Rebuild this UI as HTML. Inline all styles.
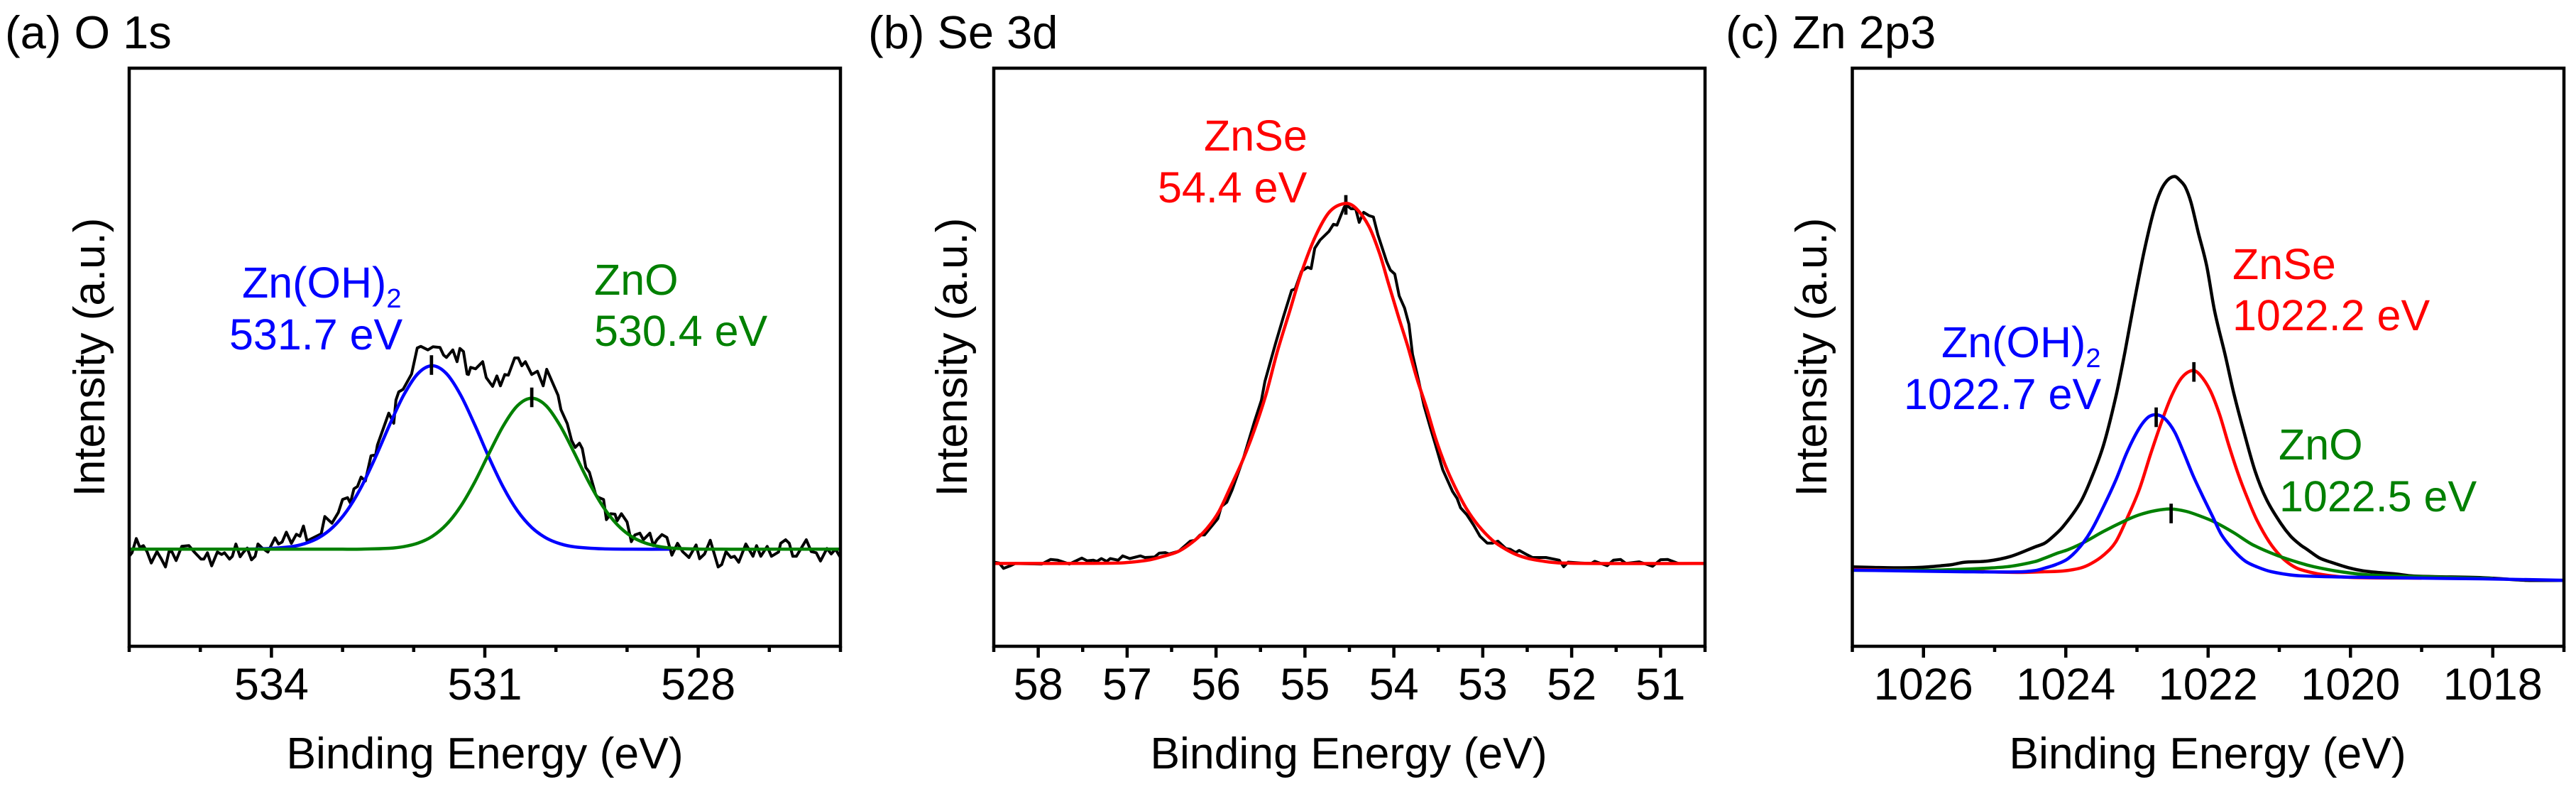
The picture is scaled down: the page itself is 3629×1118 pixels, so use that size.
<!DOCTYPE html>
<html lang="en">
<head>
<meta charset="utf-8">
<title>XPS spectra: O 1s, Se 3d, Zn 2p3</title>
<style>
html,body{margin:0;padding:0;background:#fff;}
#figure{display:block;}
text{font-family:"Liberation Sans",Arial,sans-serif;}
</style>
</head>
<body>
<svg id="figure" xmlns="http://www.w3.org/2000/svg" width="3629" height="1118" viewBox="0 0 3629 1118">
  <rect x="0" y="0" width="3629" height="1118" fill="#fff"/>
  <g id="panel-a"></g>
  <g id="panel-b"></g>
  <g id="panel-c"></g>

  <text x="7" y="68" font-size="65">(a) O 1s</text>
  <text x="1223" y="68" font-size="65">(b) Se 3d</text>
  <text x="2431" y="68" font-size="65">(c) Zn 2p3</text>

  <text x="341" y="419" font-size="61" fill="#0000ff">Zn(OH)<tspan dy="14" font-size="38">2</tspan></text>
  <text x="323" y="492" font-size="61" fill="#0000ff">531.7 eV</text>
  <text x="837" y="415" font-size="61" fill="#008000">ZnO</text>
  <text x="837" y="487" font-size="61" fill="#008000">530.4 eV</text>

  <text x="1696" y="212" font-size="61" fill="#ff0000">ZnSe</text>
  <text x="1631" y="285" font-size="61" fill="#ff0000">54.4 eV</text>

  <text x="3145" y="393" font-size="61" fill="#ff0000">ZnSe</text>
  <text x="3145" y="465" font-size="61" fill="#ff0000">1022.2 eV</text>
  <text x="2735" y="503" font-size="61" fill="#0000ff">Zn(OH)<tspan dy="14" font-size="38">2</tspan></text>
  <text x="2682" y="576" font-size="61" fill="#0000ff">1022.7 eV</text>
  <text x="3210" y="647" font-size="61" fill="#008000">ZnO</text>
  <text x="3211" y="720" font-size="61" fill="#008000">1022.5 eV</text>
</svg>

<script>
/* ---------- Panel (a) O 1s ---------- */
const aMajorTicks = [534, 531, 528];
const aMinorTicks = [536, 535, 533, 532, 530, 529, 527, 526];
const aRawEnergy = [536.00,535.96,535.90,535.85,535.80,535.75,535.69,535.61,535.55,535.49,535.44,535.40,535.34,535.26,535.16,535.09,534.99,534.95,534.90,534.84,534.76,534.70,534.66,534.59,534.55,534.50,534.44,534.40,534.34,534.28,534.23,534.19,534.13,534.05,533.95,533.90,533.85,533.79,533.72,533.65,533.60,533.55,533.50,533.30,533.25,533.15,533.06,533.00,532.93,532.89,532.84,532.79,532.74,532.68,532.60,532.56,532.54,532.51,532.35,532.28,532.25,532.21,532.15,532.03,531.95,531.90,531.80,531.73,531.63,531.58,531.54,531.45,531.39,531.35,531.30,531.25,531.23,531.20,531.13,531.03,530.98,530.89,530.83,530.78,530.72,530.67,530.58,530.53,530.48,530.43,530.34,530.26,530.18,530.13,529.97,529.93,529.84,529.78,529.73,529.67,529.63,529.58,529.53,529.44,529.41,529.33,529.29,529.23,529.17,529.14,529.08,529.00,528.94,528.89,528.82,528.77,528.68,528.63,528.58,528.51,528.44,528.37,528.29,528.22,528.13,528.03,527.98,527.91,527.83,527.72,527.67,527.61,527.54,527.49,527.43,527.33,527.23,527.18,527.12,527.03,526.97,526.87,526.84,526.77,526.72,526.67,526.62,526.48,526.41,526.34,526.28,526.19,526.13,526.07,526.00];
const aRawIntensity = [126.7,131.7,151.7,139.3,141.7,133.3,117.3,133.3,123.3,111.7,133.3,133.3,120.7,140.7,141.7,133.3,122.7,122.7,131.7,113.3,132.7,129.3,131.7,122.7,126.7,144,126,131.7,138.3,121.7,126.7,144,138.3,132.7,152.7,144,146.7,160.7,145,157.7,155,169.3,148.3,158.3,182.7,173.3,188.3,206.7,209.3,201.7,221.7,225,238.3,232.7,268.3,269,266.7,283.3,328.3,314,346.7,358.3,361.7,383.3,420,422.3,417.3,421.7,420.7,410,406.7,417.3,400.7,419.3,415,383.3,382.7,392.7,390.7,400.7,378.3,366,380.7,366.7,382.7,381.7,406,406,395,400.7,382.7,387.3,366.7,390,353.3,333.3,313.3,290,280,286,278.3,251.7,245,213.3,210,206.7,178.3,186.7,186,176.7,186.7,175,147.3,156.7,159.3,150,159.3,141.7,150,157.3,153.3,128.3,145,133.3,125,142.7,123.3,130,149.3,111.7,115,133.3,125,126.7,118.3,144,126.7,141.7,126.7,140.7,126.7,132.7,145,150,145,126.7,126.7,150,133.3,131.7,120,137.7,130,136.7,125];
const aZnOH2Energy = [534.54,534.14,533.74,533.54,533.34,533.14,532.94,532.74,532.54,532.34,532.14,531.94,531.74,531.54,531.34,531.14,530.94,530.74,530.54,530.34,530.14,529.94,529.74,529.34,528.94,528.40];
const aZnOH2Intensity = [136.7,137.2,140,144.3,152.6,167.3,190.6,223.8,265.6,311.4,353.8,384,395,384,353.8,311.4,265.6,223.8,190.6,167.3,152.6,144.3,140,137.2,136.7,136.7];
const aZnOEnergy = [536,535,534,533,532.74,532.34,532.14,531.94,531.74,531.54,531.34,531.14,530.94,530.74,530.54,530.34,530.14,529.94,529.74,529.54,529.34,529.14,528.94,528.74,528.54,528.34,527.94,527,526];
const aZnOIntensity = [136.7,136.7,136.7,136.7,136.8,138,140.3,145.2,154.7,171.4,197,231.6,271.8,310.5,338.9,349.3,338.9,310.5,271.8,231.6,197,171.4,154.7,145.2,140.3,138,136.8,136.7,136.7];
const aMarkEnergy = [531.75, 530.34];
const aMarkIntensity = [396, 350.5];

/* ---------- Panel (b) Se 3d ---------- */
const bMajorTicks = [58, 57, 56, 55, 54, 53, 52, 51];
const bMinorTicks = [58.5, 57.5, 56.5, 55.5, 54.5, 53.5, 52.5, 51.5, 50.5];
const bRawEnergy = [58.50,58.44,58.39,58.31,58.26,57.96,57.86,57.78,57.65,57.51,57.45,57.38,57.34,57.29,57.23,57.19,57.10,57.05,56.97,56.85,56.80,56.69,56.64,56.57,56.53,56.42,56.29,56.24,56.18,56.13,55.98,55.94,55.88,55.82,55.69,55.57,55.49,55.45,55.33,55.24,55.15,55.11,55.04,54.97,54.93,54.89,54.83,54.73,54.68,54.64,54.56,54.54,54.48,54.43,54.39,54.34,54.28,54.23,54.18,54.08,54.04,53.99,53.94,53.88,53.83,53.79,53.72,53.66,53.59,53.53,53.45,53.34,53.29,53.25,53.18,53.10,53.03,52.95,52.89,52.83,52.74,52.69,52.63,52.59,52.50,52.44,52.29,52.14,52.09,52.04,51.90,51.78,51.74,51.60,51.53,51.45,51.39,51.24,51.09,51.00,50.92,50.80];
const bRawIntensity = [118.5,117.3,109.7,113.5,116.6,115.8,122.3,121.2,115.8,124.2,120.4,121.2,119.6,123.5,119.6,123.5,121.2,127.3,123.5,127.3,125,125.8,131.1,131.9,130,133.8,148,149.1,156.7,156.7,179.7,196.9,202.7,219.9,265.8,315.6,346.2,373,426.6,464.8,501.2,503.1,528,533.7,531.8,560.5,572,584.2,594.2,593,617.9,621.7,616,616,596.9,611,606.4,604.5,579.6,541.4,529.9,524.1,493.5,476.3,453.3,411.2,373,338.5,307.9,283,248.6,218,208.4,195,185.4,170.1,154.8,145.3,145.3,148,137.6,136.5,131.9,135,128.8,125,125,121.2,112,118.5,117.3,116.6,119.6,113.5,121.2,122.3,116.6,118.9,112.7,121.9,122.3,116.6];
const bZnSeEnergy = [58.50,57.09,56.77,56.64,56.42,56.24,56.10,55.97,55.84,55.70,55.57,55.44,55.31,55.17,55.04,54.88,54.72,54.54,54.42,54.28,54.16,54.06,53.95,53.84,53.74,53.63,53.53,53.42,53.31,53.18,53.05,52.89,52.74,52.60,52.44,52.12,50.50];
const bZnSeIntensity = [116.6,117.3,121.2,125,133.8,149.1,166.3,189.3,223.7,262,304.1,353.8,415.1,472.5,526,577.7,612.2,623.6,616,591.1,552.8,510.7,464.8,420.8,376.8,334.7,292.6,254.3,223.7,193.1,170.1,149.1,136.5,128,122.3,117.3,116.6];
const bMarkEnergy = [54.54];
const bMarkIntensity = [621.5];

/* ---------- Panel (c) Zn 2p3 ---------- */
const cMajorTicks = [1026, 1024, 1022, 1020, 1018];
const cMinorTicks = [1027, 1025, 1023, 1021, 1019, 1017];
const cRawEnergy = [1027,1026.7,1026.4,1026.07,1025.76,1025.6,1025.43,1025.1,1024.77,1024.43,1024.30,1024.20,1024.04,1023.80,1023.64,1023.47,1023.30,1023.17,1023.04,1022.9,1022.77,1022.67,1022.57,1022.47,1022.4,1022.32,1022.24,1022.14,1022.02,1021.91,1021.76,1021.64,1021.51,1021.34,1021.18,1020.98,1020.84,1020.71,1020.61,1020.44,1020.28,1020.03,1019.78,1019.38,1019.11,1018.14,1017.52,1017];
const cRawIntensity = [111.7,111,110.5,111,113.3,115,118.3,120,126.7,140,145,152.7,168.3,201.7,236.7,283.3,350,414,484.4,555.6,610.9,640.6,656.4,661.5,656.4,646.5,624.8,583.2,535.8,472.5,410,356.7,306.7,246.7,206.7,173.3,155,143.3,136.4,124.6,118.6,110.7,105.6,102,98.9,96.5,92.9,92.9];
const cZnSeEnergy = [1027,1025.5,1024.68,1024.30,1024.04,1023.80,1023.64,1023.47,1023.30,1023.14,1022.97,1022.81,1022.64,1022.51,1022.37,1022.22,1022.11,1021.97,1021.84,1021.71,1021.58,1021.44,1021.31,1021.14,1020.98,1020.84,1020.71,1020.4,1020,1019];
const cZnSeIntensity = [108,106,104,105,106,110,116.7,128.3,146.7,180,220,270,320,353.3,378.3,388.3,381.7,360,326.7,283.3,243.3,206.7,176.7,146.7,126.7,115,108.3,101,97,96];
const cZnOEnergy = [1027,1026,1025.5,1025.1,1024.77,1024.43,1024.30,1024.10,1023.97,1023.77,1023.47,1023.17,1022.97,1022.74,1022.52,1022.31,1022.11,1021.91,1021.64,1021.38,1021.04,1020.71,1020.51,1020.18,1019.78,1019.11,1018];
const cZnOIntensity = [107,107,108.3,110,112.7,119.3,124,131.7,136,145,161.7,176.7,185,191,193.3,190,183.3,175,160,143.3,128.3,117.3,111.9,105.6,100.8,98.1,95.5];
const cZnOH2Energy = [1027,1026.2,1025.5,1024.68,1024.43,1024.30,1024.14,1023.97,1023.80,1023.64,1023.47,1023.30,1023.14,1022.97,1022.84,1022.73,1022.61,1022.47,1022.34,1022.21,1022.07,1021.94,1021.81,1021.64,1021.48,1021.31,1021.11,1020.71,1019.11,1018.14,1017];
const cZnOH2Intensity = [107.3,106,105,104.7,106.7,110,115,123.3,140,163.3,196.7,233.3,273.3,306.7,322.7,326,320.7,301.7,271.7,240,210,183.3,156.7,135,120,111.7,105,99.3,96.1,95,92.9];
const cMarkEnergy = [1022.73, 1022.2, 1022.52];
const cMarkIntensity = [322.5, 386.3, 187];

/* ---------- Drawing ---------- */
const SVG_NS = 'http://www.w3.org/2000/svg';
const frameTop = 96;
const frameBottom = 910;
const intensityMax = 814;

function make(parent, tag, attrs) {
  const el = document.createElementNS(SVG_NS, tag);
  for (const k in attrs) el.setAttribute(k, attrs[k]);
  parent.appendChild(el);
  return el;
}
function yScale(v) {
  return frameBottom - (v / intensityMax) * (frameBottom - frameTop);
}
function rawPath(xs, ys, sx) {
  return xs.map((e, i) => (i ? 'L' : 'M') + sx(e).toFixed(1) + ' ' + yScale(ys[i]).toFixed(1)).join(' ');
}
function smoothPath(xs, ys, sx) {
  const p = xs.map((e, i) => [sx(e), yScale(ys[i])]);
  let d = 'M' + p[0][0].toFixed(1) + ' ' + p[0][1].toFixed(1);
  for (let i = 0; i < p.length - 1; i++) {
    const p0 = p[Math.max(i - 1, 0)], p1 = p[i], p2 = p[i + 1], p3 = p[Math.min(i + 2, p.length - 1)];
    const seg = p2[0] - p1[0];
    const m1 = (p2[1] - p0[1]) / (p2[0] - p0[0] || 1);
    const m2 = (p3[1] - p1[1]) / (p3[0] - p1[0] || 1);
    d += ' C' + (p1[0] + seg / 3).toFixed(1) + ' ' + (p1[1] + m1 * seg / 3).toFixed(1) + ' ' +
         (p2[0] - seg / 3).toFixed(1) + ' ' + (p2[1] - m2 * seg / 3).toFixed(1) + ' ' +
         p2[0].toFixed(1) + ' ' + p2[1].toFixed(1);
  }
  return d;
}

function drawPanel(cfg) {
  const root = document.getElementById(cfg.id);
  const sx = e => cfg.left + (cfg.eMax - e) / (cfg.eMax - cfg.eMin) * (cfg.right - cfg.left);

  cfg.majors.forEach(t => {
    const tick = make(root, 'line', {x1: sx(t), x2: sx(t), y1: frameBottom, y2: frameBottom + 16, stroke: '#000', 'stroke-width': 4.5});
    
    
    const label = make(root, 'text', {x: sx(t), y: 985, 'font-size': 63, 'text-anchor': 'middle'});
    
    
    label.textContent = t;
  });
  cfg.minors.forEach(t => {
    const tick = make(root, 'line', {x1: sx(t), x2: sx(t), y1: frameBottom, y2: frameBottom + 8, stroke: '#000', 'stroke-width': 4.5});
    
    
  });

  cfg.series.forEach(s => {
    if (s.marksHere) drawMarks(root, cfg, sx);
    const path = make(root, 'path', {
      d: s.smooth ? smoothPath(s.x, s.y, sx) : rawPath(s.x, s.y, sx),
      fill: 'none', stroke: s.color, 'stroke-width': s.width,
      'stroke-linejoin': 'round', 'stroke-linecap': 'butt'
    });
    
    
  });
  if (!cfg.series.some(s => s.marksHere)) drawMarks(root, cfg, sx);

  const frame = make(root, 'rect', {
    x: cfg.left, y: frameTop, width: cfg.right - cfg.left, height: frameBottom - frameTop,
    fill: 'none', stroke: '#000', 'stroke-width': 4.5
  });
  
  

  const xTitle = make(root, 'text', {x: cfg.xTitleX, y: 1082, 'font-size': 62.5, 'text-anchor': 'middle'});
  
  
  xTitle.textContent = 'Binding Energy (eV)';

  const yTitle = make(root, 'text', {
    x: 0, y: 0, 'font-size': 62, 'text-anchor': 'middle',
    transform: 'translate(' + cfg.yTitleX + ' 503) rotate(-90)'
  });
  
  
  yTitle.textContent = 'Intensity (a.u.)';
}

function drawMarks(root, cfg, sx) {
  cfg.markE.forEach((e, i) => {
    const y = yScale(cfg.markI[i]);
    const mark = make(root, 'line', {x1: sx(e), x2: sx(e), y1: y - 13.8, y2: y + 13.8, stroke: '#000', 'stroke-width': 4.7});
    
    
  });
}

drawPanel({
  id: 'panel-a', left: 182, right: 1184, eMax: 536, eMin: 526,
  majors: aMajorTicks, minors: aMinorTicks, markE: aMarkEnergy, markI: aMarkIntensity,
  xTitleX: 683, yTitleX: 147,
  series: [
    {name: 'measured-spectrum-o1s', x: aRawEnergy, y: aRawIntensity, color: '#000', width: 4},
    {name: 'fit-zn-oh2-o1s', x: aZnOH2Energy, y: aZnOH2Intensity, color: '#0000ff', width: 4.5, smooth: true},
    {name: 'fit-zno-o1s', x: aZnOEnergy, y: aZnOIntensity, color: '#008000', width: 4.5, smooth: true}
  ]
});
drawPanel({
  id: 'panel-b', left: 1400, right: 2402, eMax: 58.5, eMin: 50.5,
  majors: bMajorTicks, minors: bMinorTicks, markE: bMarkEnergy, markI: bMarkIntensity,
  xTitleX: 1900, yTitleX: 1362,
  series: [
    {name: 'measured-spectrum-se3d', x: bRawEnergy, y: bRawIntensity, color: '#000', width: 4},
    {name: 'fit-znse-se3d', x: bZnSeEnergy, y: bZnSeIntensity, color: '#ff0000', width: 4.5, smooth: true, marksHere: true}
  ]
});
drawPanel({
  id: 'panel-c', left: 2609.5, right: 3612, eMax: 1027, eMin: 1017,
  majors: cMajorTicks, minors: cMinorTicks, markE: cMarkEnergy, markI: cMarkIntensity,
  xTitleX: 3110, yTitleX: 2573,
  series: [
    {name: 'measured-spectrum-zn2p3', x: cRawEnergy, y: cRawIntensity, color: '#000', width: 4.5, smooth: true},
    {name: 'fit-znse-zn2p3', x: cZnSeEnergy, y: cZnSeIntensity, color: '#ff0000', width: 4.5, smooth: true},
    {name: 'fit-zno-zn2p3', x: cZnOEnergy, y: cZnOIntensity, color: '#008000', width: 4.5, smooth: true},
    {name: 'fit-zn-oh2-zn2p3', x: cZnOH2Energy, y: cZnOH2Intensity, color: '#0000ff', width: 4.5, smooth: true}
  ]
});
</script>
</body>
</html>
